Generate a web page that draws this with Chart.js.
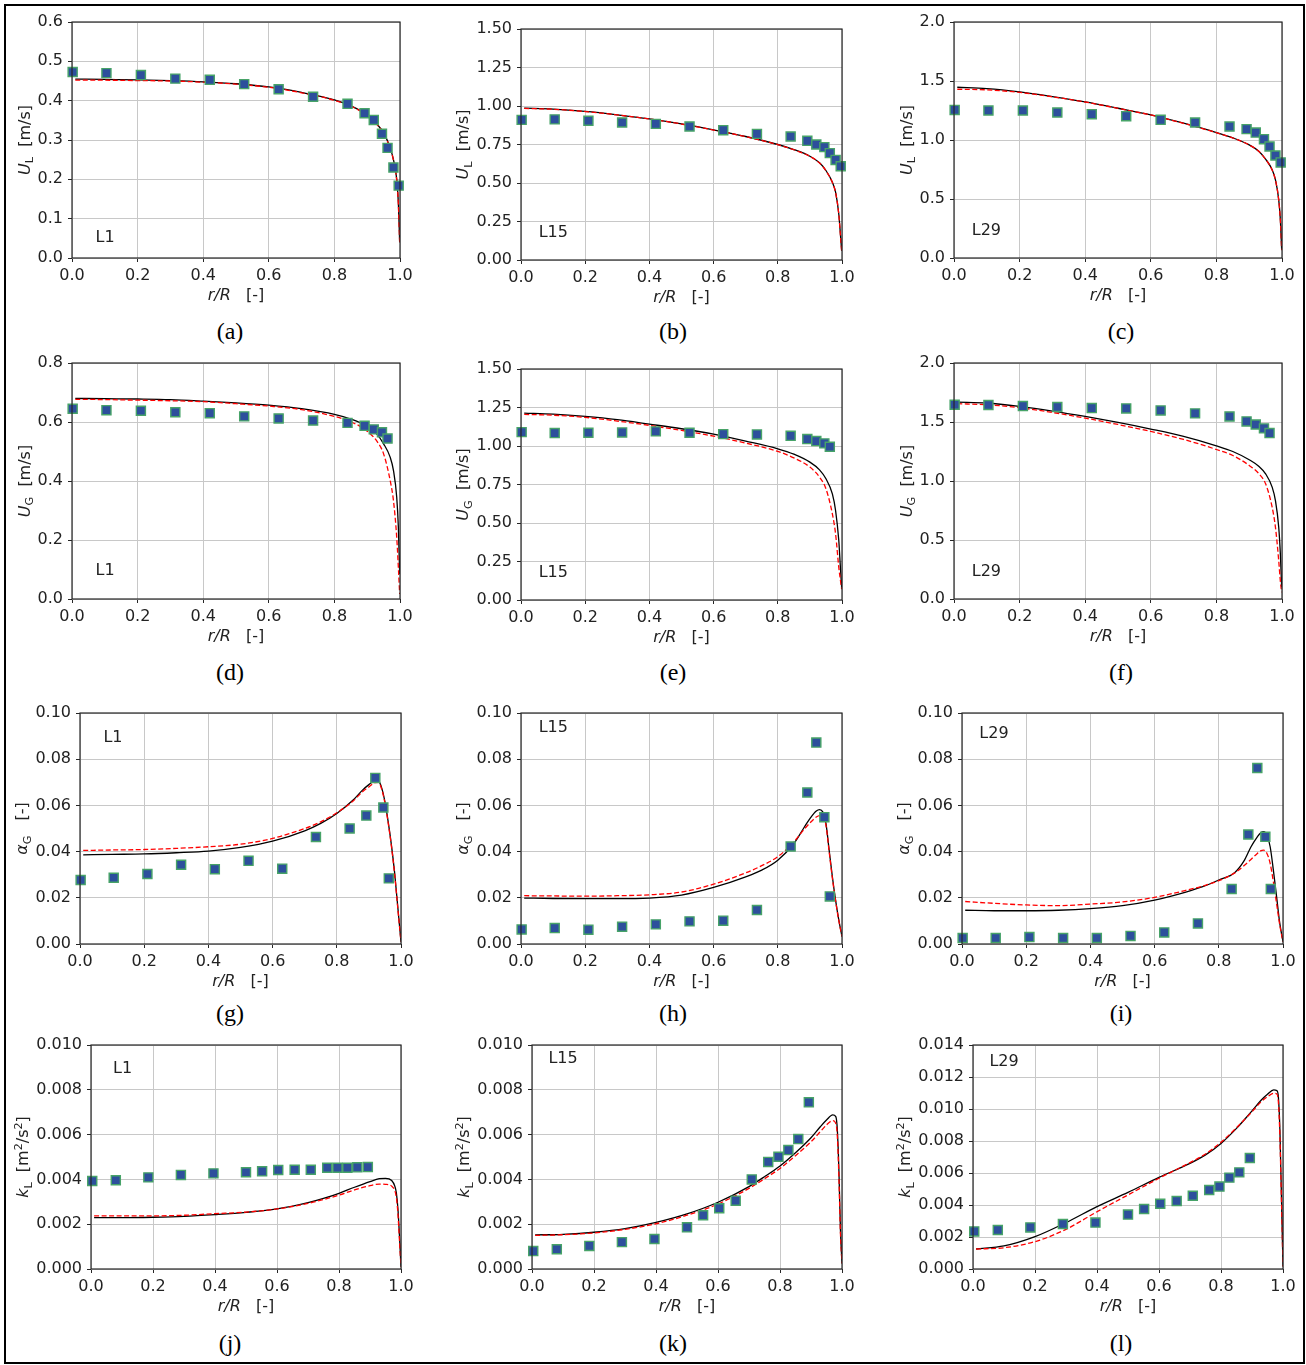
<!DOCTYPE html>
<html><head><meta charset="utf-8">
<script src="https://cdn.jsdelivr.net/npm/chart.js@4.4.1/dist/chart.umd.min.js"></script>
<style>
body{margin:0;background:#fff;width:1306px;height:1365px;overflow:hidden;position:relative}
#frame{position:absolute;left:4px;top:4px;width:1301px;height:1360px;border:2px solid #000;box-sizing:border-box}
canvas{position:absolute}
.cap{position:absolute;font-family:'Liberation Serif','Times New Roman',serif;font-size:24px;line-height:24px;width:60px;text-align:center;color:#000}
</style></head><body>
<div id="frame"></div>
<script>
// ---------- x grids ----------
const velCurveX = [0.01,0.1,0.2,0.3,0.4,0.5,0.6,0.7,0.8,0.85,0.9,0.93,0.95,0.97,0.98,0.99,0.995,0.999];
const alphaCurveX = [0.01,0.1,0.2,0.3,0.4,0.5,0.6,0.7,0.75,0.8,0.85,0.88,0.9,0.92,0.93,0.94,0.95,0.96,0.97,0.98,0.99,1.0];
const kCurveX = [0.01,0.1,0.2,0.3,0.4,0.5,0.6,0.7,0.75,0.8,0.85,0.9,0.93,0.95,0.97,0.98,0.985,0.99,0.995,1.0];
const liqExpX = [0.002,0.105,0.21,0.315,0.42,0.525,0.63,0.735,0.84,0.892,0.92,0.945,0.962,0.98,0.996];
const gasExpX = [0.002,0.105,0.21,0.315,0.42,0.525,0.63,0.735,0.84,0.892,0.92,0.945,0.962];
const kExpX = [0.004,0.08,0.185,0.29,0.395,0.5,0.552,0.604,0.657,0.709,0.762,0.795,0.827,0.859,0.893];

// ---------- tick values ----------
const xTicks = [0,0.2,0.4,0.6,0.8,1.0];
const yTicksUL1 = [0,0.1,0.2,0.3,0.4,0.5,0.6];
const yTicks150 = [0,0.25,0.5,0.75,1.0,1.25,1.5];
const yTicks200 = [0,0.5,1.0,1.5,2.0];
const yTicksUG1 = [0,0.2,0.4,0.6,0.8];
const yTicksAlpha = [0,0.02,0.04,0.06,0.08,0.10];
const yTicksK10 = [0,0.002,0.004,0.006,0.008,0.010];
const yTicksK14 = [0,0.002,0.004,0.006,0.008,0.010,0.012,0.014];

// ---------- (a) U_L, L1 ----------
const aBlack = [0.455,0.454,0.453,0.451,0.448,0.443,0.435,0.421,0.402,0.387,0.364,0.340,0.318,0.280,0.250,0.200,0.140,0.040];
const aRed   = [0.452,0.452,0.451,0.450,0.447,0.442,0.434,0.420,0.401,0.386,0.363,0.339,0.317,0.279,0.249,0.198,0.138,0.038];
const aExp   = [0.473,0.470,0.465,0.456,0.453,0.442,0.429,0.410,0.392,0.368,0.351,0.316,0.280,0.230,0.184];
// ---------- (b) U_L, L15 ----------
const bBlack = [0.986,0.980,0.965,0.943,0.917,0.884,0.845,0.802,0.750,0.717,0.674,0.631,0.581,0.505,0.440,0.299,0.169,0.060];
const bRed   = [0.984,0.979,0.964,0.942,0.916,0.883,0.844,0.801,0.749,0.716,0.673,0.630,0.580,0.503,0.437,0.296,0.165,0.055];
const bExp   = [0.910,0.913,0.904,0.893,0.884,0.867,0.843,0.819,0.802,0.774,0.750,0.733,0.694,0.650,0.609];
// ---------- (c) U_L, L29 ----------
const cBlack = [1.447,1.436,1.408,1.368,1.323,1.269,1.213,1.142,1.063,1.018,0.959,0.903,0.838,0.748,0.663,0.494,0.324,0.070];
const cRed   = [1.430,1.425,1.403,1.366,1.322,1.268,1.212,1.141,1.062,1.017,0.958,0.902,0.836,0.745,0.660,0.490,0.320,0.065];
const cExp   = [1.255,1.250,1.250,1.233,1.219,1.202,1.171,1.148,1.114,1.092,1.063,1.007,0.945,0.869,0.810];
// ---------- (d) U_G, L1 ----------
const dBlack = [0.680,0.679,0.678,0.676,0.671,0.665,0.657,0.645,0.626,0.610,0.585,0.558,0.526,0.481,0.436,0.345,0.243,0.085];
const dRed   = [0.677,0.676,0.674,0.672,0.669,0.662,0.654,0.642,0.619,0.601,0.569,0.534,0.492,0.402,0.334,0.209,0.107,0.017];
const dExp   = [0.645,0.640,0.638,0.633,0.630,0.619,0.612,0.605,0.597,0.587,0.575,0.565,0.544];
// ---------- (e) U_G, L15 ----------
const eBlack = [1.214,1.207,1.192,1.171,1.142,1.112,1.077,1.032,0.982,0.947,0.895,0.845,0.787,0.689,0.581,0.386,0.212,0.080];
const eRed   = [1.205,1.200,1.186,1.162,1.134,1.101,1.064,1.019,0.965,0.923,0.863,0.798,0.722,0.559,0.429,0.212,0.130,0.070];
const eExp   = [1.090,1.084,1.086,1.088,1.095,1.086,1.077,1.075,1.066,1.045,1.032,1.017,0.995];
// ---------- (f) U_G, L29 ----------
const fBlack = [1.669,1.661,1.632,1.593,1.547,1.496,1.440,1.378,1.298,1.250,1.180,1.123,1.061,0.948,0.834,0.608,0.382,0.100];
const fRed   = [1.655,1.646,1.621,1.581,1.533,1.479,1.420,1.352,1.267,1.216,1.132,1.061,0.976,0.778,0.608,0.325,0.150,0.057];
const fExp   = [1.646,1.644,1.635,1.627,1.618,1.615,1.598,1.573,1.547,1.505,1.479,1.446,1.406];
// ---------- (g) alpha_G, L1 ----------
const gBlack = [0.0386,0.0388,0.0390,0.0395,0.0402,0.0418,0.0445,0.0490,0.0522,0.0565,0.0622,0.0666,0.0690,0.0708,0.0705,0.0675,0.0615,0.0530,0.0430,0.0310,0.0160,0.0010];
const gRed   = [0.0405,0.0407,0.0409,0.0414,0.0421,0.0432,0.0457,0.0500,0.0529,0.0568,0.0618,0.0659,0.0680,0.0699,0.0700,0.0670,0.0610,0.0525,0.0425,0.0305,0.0155,0.0010];
const gExp   = [0.0277,0.0287,0.0303,0.0343,0.0324,0.0360,0.0326,0.0463,0.0500,0.0556,0.0719,0.0591,0.0284];
// ---------- (h) alpha_G, L15 ----------
const hBlack = [0.0199,0.0197,0.0196,0.0196,0.0199,0.0212,0.0245,0.0291,0.0320,0.0363,0.0435,0.0500,0.0543,0.0576,0.0582,0.0572,0.0522,0.0406,0.0291,0.0190,0.0104,0.0032];
const hRed   = [0.0209,0.0208,0.0207,0.0209,0.0213,0.0225,0.0259,0.0308,0.0339,0.0378,0.0442,0.0493,0.0524,0.0550,0.0556,0.0553,0.0514,0.0399,0.0285,0.0187,0.0102,0.0032];
const hExp   = [0.0063,0.0069,0.0062,0.0075,0.0085,0.0098,0.0101,0.0147,0.0422,0.0656,0.0872,0.0549,0.0206];
// ---------- (i) alpha_G, L29 ----------
const iBlack = [0.0146,0.0144,0.0144,0.0146,0.0153,0.0166,0.0190,0.0226,0.0248,0.0277,0.0310,0.0363,0.0420,0.0464,0.0481,0.0486,0.0471,0.0421,0.0320,0.0205,0.0089,0.0010];
const iRed   = [0.0184,0.0176,0.0169,0.0166,0.0173,0.0182,0.0202,0.0233,0.0251,0.0274,0.0308,0.0341,0.0366,0.0392,0.0403,0.0406,0.0392,0.0349,0.0269,0.0176,0.0082,0.0010];
const iExp   = [0.0026,0.0026,0.0030,0.0026,0.0026,0.0035,0.0050,0.0089,0.0238,0.0474,0.0762,0.0464,0.0238];
// ---------- (j) k_L, L1 ----------
const jBlack = [0.00229,0.00229,0.00231,0.00235,0.00243,0.00253,0.00268,0.00296,0.00315,0.00338,0.00365,0.00390,0.00403,0.00405,0.00395,0.00370,0.00340,0.00270,0.00150,0.00010];
const jRed   = [0.00237,0.00237,0.00237,0.00240,0.00247,0.00254,0.00268,0.00293,0.00310,0.00330,0.00353,0.00372,0.00379,0.00378,0.00370,0.00350,0.00320,0.00250,0.00130,0.00010];
const jExp   = [0.00393,0.00396,0.00409,0.00420,0.00427,0.00432,0.00436,0.00442,0.00443,0.00443,0.00452,0.00452,0.00452,0.00454,0.00455];
// ---------- (k) k_L, L15 ----------
const kBlack = [0.00152,0.00155,0.00164,0.00180,0.00208,0.00246,0.00298,0.00368,0.00412,0.00460,0.00519,0.00586,0.00635,0.00665,0.00688,0.00680,0.00620,0.00442,0.00174,0.00025];
const kRed   = [0.00150,0.00153,0.00161,0.00177,0.00202,0.00240,0.00290,0.00360,0.00403,0.00449,0.00506,0.00568,0.00613,0.00643,0.00662,0.00650,0.00591,0.00412,0.00159,0.00025];
const kExp   = [0.00080,0.00088,0.00103,0.00120,0.00134,0.00186,0.00240,0.00271,0.00305,0.00400,0.00478,0.00501,0.00531,0.00580,0.00744];
// ---------- (l) k_L, L29 ----------
const lBlack = [0.00125,0.00144,0.00202,0.00290,0.00390,0.00479,0.00573,0.00660,0.00713,0.00785,0.00879,0.00988,0.01056,0.01092,0.01119,0.01115,0.01077,0.00869,0.00452,0.00015];
const lRed   = [0.00125,0.00133,0.00171,0.00248,0.00358,0.00463,0.00567,0.00665,0.00719,0.00792,0.00883,0.00983,0.01046,0.01077,0.01098,0.01094,0.01046,0.00827,0.00431,0.00015];
const lExp   = [0.00235,0.00244,0.00260,0.00281,0.00290,0.00340,0.00375,0.00408,0.00425,0.00458,0.00494,0.00515,0.00571,0.00604,0.00694];

// ---------- titles ----------
const T_UL = [{t:'U',it:1},{t:'L',sub:1},{t:'  [m/s]'}];
const T_UG = [{t:'U',it:1},{t:'G',sub:1},{t:'  [m/s]'}];
const T_AG = [{t:'α',it:1},{t:'G',sub:1},{t:'   [-]'}];
const T_KL = [{t:'k',it:1},{t:'L',sub:1},{t:'  [m'},{t:'2',sup:1},{t:'/s'},{t:'2',sup:1},{t:']'}];
const T_X  = [{t:'r/R',it:1},{t:'   [-]'}];

// ---------- panel layout ----------
const panels = [
 {L:72,R:400,T:22,B:258, yMax:0.6,yT:yTicksUL1,dec:1,title:T_UL,cx:velCurveX,bk:aBlack,rd:aRed,ex:liqExpX,ey:aExp,tag:'L1',tp:[0.072,0.066],cap:'(a)',capX:230,capY:319},
 {L:521,R:842,T:29,B:260, yMax:1.5,yT:yTicks150,dec:2,title:T_UL,cx:velCurveX,bk:bBlack,rd:bRed,ex:liqExpX,ey:bExp,tag:'L15',tp:[0.055,0.099],cap:'(b)',capX:673,capY:319},
 {L:954,R:1282,T:22,B:258, yMax:2.0,yT:yTicks200,dec:1,title:T_UL,cx:velCurveX,bk:cBlack,rd:cRed,ex:liqExpX,ey:cExp,tag:'L29',tp:[0.054,0.097],cap:'(c)',capX:1121,capY:319},
 {L:72,R:400,T:363,B:599, yMax:0.8,yT:yTicksUG1,dec:1,title:T_UG,cx:velCurveX,bk:dBlack,rd:dRed,ex:gasExpX,ey:dExp,tag:'L1',tp:[0.072,0.10],cap:'(d)',capX:230,capY:660},
 {L:521,R:842,T:369,B:600, yMax:1.5,yT:yTicks150,dec:2,title:T_UG,cx:velCurveX,bk:eBlack,rd:eRed,ex:gasExpX,ey:eExp,tag:'L15',tp:[0.055,0.099],cap:'(e)',capX:673,capY:660},
 {L:954,R:1282,T:363,B:599, yMax:2.0,yT:yTicks200,dec:1,title:T_UG,cx:velCurveX,bk:fBlack,rd:fRed,ex:gasExpX,ey:fExp,tag:'L29',tp:[0.054,0.099],cap:'(f)',capX:1121,capY:660},
 {L:80,R:401,T:713,B:944, yMax:0.1,yT:yTicksAlpha,dec:2,title:T_AG,cx:alphaCurveX,bk:gBlack,rd:gRed,ex:gasExpX,ey:gExp,tag:'L1',tp:[0.073,0.876],cap:'(g)',capX:230,capY:1001},
 {L:521,R:842,T:713,B:944, yMax:0.1,yT:yTicksAlpha,dec:2,title:T_AG,cx:alphaCurveX,bk:hBlack,rd:hRed,ex:gasExpX,ey:hExp,tag:'L15',tp:[0.055,0.919],cap:'(h)',capX:673,capY:1001},
 {L:962,R:1283,T:713,B:944, yMax:0.1,yT:yTicksAlpha,dec:2,title:T_AG,cx:alphaCurveX,bk:iBlack,rd:iRed,ex:gasExpX,ey:iExp,tag:'L29',tp:[0.054,0.89],cap:'(i)',capX:1121,capY:1001},
 {L:91,R:401,T:1045,B:1269, yMax:0.010,yT:yTicksK10,dec:3,title:T_KL,cx:kCurveX,bk:jBlack,rd:jRed,ex:kExpX,ey:jExp,tag:'L1',tp:[0.071,0.876],cap:'(j)',capX:230,capY:1331},
 {L:532,R:842,T:1045,B:1269, yMax:0.010,yT:yTicksK10,dec:3,title:T_KL,cx:kCurveX,bk:kBlack,rd:kRed,ex:kExpX,ey:kExp,tag:'L15',tp:[0.053,0.918],cap:'(k)',capX:673,capY:1331},
 {L:973,R:1283,T:1045,B:1269, yMax:0.014,yT:yTicksK14,dec:3,title:T_KL,cx:kCurveX,bk:lBlack,rd:lRed,ex:kExpX,ey:lExp,tag:'L29',tp:[0.053,0.906],cap:'(l)',capX:1121,capY:1331}
];

const FONT = "'DejaVu Sans', sans-serif";
const TXT = '#222';
const TICK_SIZE = 16, TITLE_SIZE = 16;
const PADL = 20, YW = 62, PADR = 20, PADT = 15, XH = 30, PADB = 20;

function drawSegs(ctx, segs, size) {
  let total = 0;
  const items = segs.map(s => {
    const fs = (s.sub || s.sup) ? size * 0.7 : size;
    const font = (s.it ? 'italic ' : '') + fs + 'px ' + FONT;
    ctx.font = font;
    const w = ctx.measureText(s.t).width;
    total += w;
    return {t: s.t, font, w, dy: s.sub ? size * 0.22 : (s.sup ? -size * 0.4 : 0)};
  });
  let x = -total / 2;
  items.forEach(it => { ctx.font = it.font; ctx.fillText(it.t, x, it.dy); x += it.w; });
}

const decor = {
  id: 'decor',
  afterDatasetsDraw(chart) {
    const ctx = chart.ctx, a = chart.chartArea, p = chart.options.plugins.decor;
    ctx.save();
    ctx.strokeStyle = '#262626'; ctx.lineWidth = 1.2;
    ctx.strokeRect(a.left, a.top, a.right - a.left, a.bottom - a.top);
    ctx.fillStyle = TXT; ctx.textBaseline = 'alphabetic'; ctx.textAlign = 'left';
    ctx.font = TITLE_SIZE + 'px ' + FONT;
    ctx.fillText(p.tag, a.left + p.tp[0] * (a.right - a.left), a.bottom - p.tp[1] * (a.bottom - a.top));
    ctx.save();
    ctx.translate((a.left + a.right) / 2, a.bottom + 42);
    drawSegs(ctx, T_X, TITLE_SIZE);
    ctx.restore();
    ctx.font = TICK_SIZE + 'px ' + FONT;
    let mw = 0;
    chart.scales.y.ticks.forEach(t => { mw = Math.max(mw, ctx.measureText(t.label).width); });
    ctx.save();
    ctx.translate(a.left - 9 - mw - 8, (a.top + a.bottom) / 2);
    ctx.rotate(-Math.PI / 2);
    drawSegs(ctx, p.title, TITLE_SIZE);
    ctx.restore();
    ctx.restore();
  }
};

panels.forEach(p => {
  const cv = document.createElement('canvas');
  const w = PADL + YW + (p.R - p.L) + PADR;
  const h = PADT + (p.B - p.T) + XH + PADB;
  cv.width = w; cv.height = h;
  cv.style.left = (p.L - PADL - YW) + 'px';
  cv.style.top = (p.T - PADT) + 'px';
  cv.style.width = w + 'px'; cv.style.height = h + 'px';
  document.body.appendChild(cv);

  const cap = document.createElement('div');
  cap.className = 'cap'; cap.textContent = p.cap;
  cap.style.left = (p.capX - 30) + 'px'; cap.style.top = p.capY + 'px';
  document.body.appendChild(cap);

  new Chart(cv, {
    type: 'line',
    data: {
      datasets: [
        {type: 'scatter', data: p.ex.map((x, i) => ({x, y: p.ey[i]})), pointStyle: 'rect', pointRadius: 6.4,
         backgroundColor: '#2d4f9c', borderColor: '#47a368', borderWidth: 1.4, clip: false},
        {data: p.cx.map((x, i) => ({x, y: p.rd[i]})), borderColor: '#ff0000', borderWidth: 1.3, borderDash: [5, 2.5],
         pointRadius: 0, fill: false, cubicInterpolationMode: 'monotone'},
        {data: p.cx.map((x, i) => ({x, y: p.bk[i]})), borderColor: '#000000', borderWidth: 1.3,
         pointRadius: 0, fill: false, cubicInterpolationMode: 'monotone'}
      ]
    },
    options: {
      responsive: false, animation: false, events: [],
      layout: {padding: {left: PADL, right: PADR, top: PADT, bottom: PADB}},
      plugins: {legend: {display: false}, tooltip: {enabled: false},
        decor: {tag: p.tag, tp: p.tp, title: p.title}},
      scales: {
        x: {type: 'linear', min: 0, max: 1,
          afterFit: s => { s.height = XH; },
          afterBuildTicks: s => { s.ticks = xTicks.map(v => ({value: v})); },
          ticks: {callback: v => Number(v).toFixed(1), font: {family: FONT, size: TICK_SIZE}, color: TXT, padding: 4, maxRotation: 0, autoSkip: false},
          grid: {color: '#c8c8c8', lineWidth: 1, tickColor: '#262626', tickLength: 4, tickWidth: 1},
          border: {display: false}},
        y: {type: 'linear', min: 0, max: p.yMax,
          afterFit: s => { s.width = YW; },
          afterBuildTicks: s => { s.ticks = p.yT.map(v => ({value: v})); },
          ticks: {callback: v => Number(v).toFixed(p.dec), font: {family: FONT, size: TICK_SIZE}, color: TXT, padding: 5, autoSkip: false},
          grid: {color: '#c8c8c8', lineWidth: 1, tickColor: '#262626', tickLength: 4, tickWidth: 1},
          border: {display: false}}
      }
    },
    plugins: [decor]
  });
});
</script>
</body></html>
